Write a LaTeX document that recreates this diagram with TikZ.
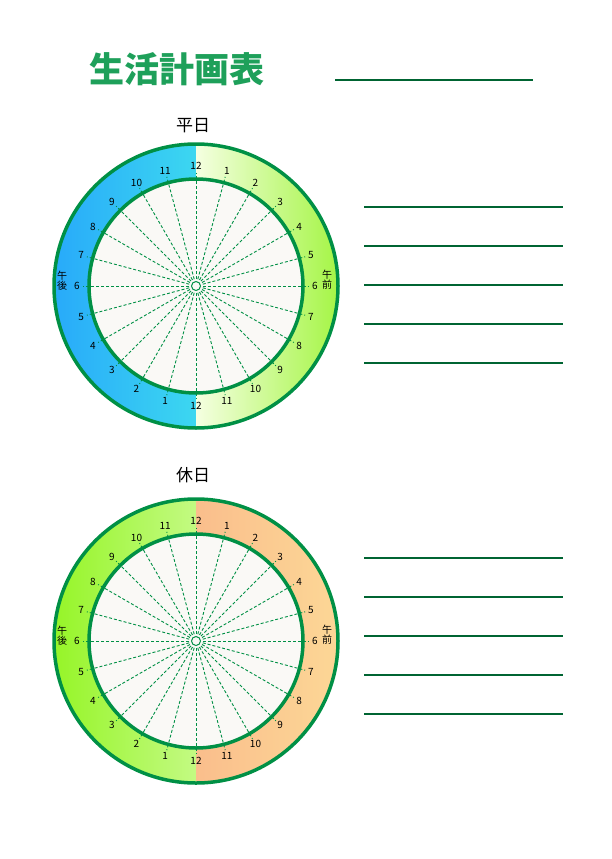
\documentclass[tikz,border=0pt]{standalone}
\usepackage{fontspec}
\setmainfont{Noto Sans CJK JP}
\usepackage{tikz}

\definecolor{ringgreen}{RGB}{0,144,69}
\definecolor{rulegreen}{RGB}{0,100,50}
\definecolor{titlegreen}{RGB}{30,160,90}
\definecolor{dialface}{RGB}{250,249,246}
\definecolor{pmblueL}{RGB}{40,170,250}
\definecolor{pmblueR}{RGB}{60,215,240}
\definecolor{amlimeL}{RGB}{245,255,225}
\definecolor{amlimeR}{RGB}{165,245,70}
\definecolor{pmgreenL}{RGB}{150,245,40}
\definecolor{pmgreenR}{RGB}{195,250,130}
\definecolor{ampeachL}{RGB}{250,190,140}
\definecolor{ampeachR}{RGB}{252,215,150}

\tikzset{
  hour/.style={font=\fontsize{10}{10}\selectfont, inner sep=0pt},
  halfday/.style={font=\fontsize{10}{10}\selectfont, align=center, inner sep=0pt},
  daytitle/.style={font=\fontsize{17}{17}\selectfont, inner sep=0pt},
  ringline/.style={draw=ringgreen, line width=3.5pt},
  spoke/.style={ringgreen, line width=0.9pt, dash pattern=on 3pt off 2pt},
  writeline/.style={rulegreen, line width=1.6pt},
}

\begin{document}
\begin{tikzpicture}[x=1pt, y=-1pt]
\useasboundingbox (0,0) rectangle (612,859);

\node[font=\fontsize{35}{35}\selectfont\bfseries, text=titlegreen, inner sep=0pt] (title) at (177,69) {生活計画表};
\draw[writeline] (335,80) -- (533,80);

% the two clock faces
\foreach \cy/\ty/\ttl/\fc/\pmL/\pmR/\amL/\amR in {286/126/平日/wd/pmblueL/pmblueR/amlimeL/amlimeR, 641/475/休日/hd/pmgreenL/pmgreenR/ampeachL/ampeachR}{
  \coordinate (\fc) at (196,\cy);
  \node[daytitle] (\fc-title) at (193,\ty) {\ttl};
  \begin{scope}
    \clip (\fc) circle (142);
    \shade[left color=\pmL, right color=\pmR] (54,\cy-142) rectangle (196,\cy+142);
    \shade[left color=\amL, right color=\amR] (196,\cy-142) rectangle (338,\cy+142);
  \end{scope}
  \fill[dialface] (\fc) circle (107);
  \foreach \a in {0,15,...,345}
    \draw[spoke] ([shift={(\a:7)}]\fc) -- ([shift={(\a:113)}]\fc);
  \draw[ringline] (\fc) circle (107);
  \draw[ringline] (\fc) circle (142);
  \draw[ringgreen, line width=1pt] (\fc) circle (4.5);
  \foreach \k in {1,...,11}{
    \node[hour] (\fc-am\k) at ([shift={({15*\k-90}:119)}]\fc) {\k};
    \node[hour] (\fc-pm\k) at ([shift={({15*\k+90}:119)}]\fc) {\k};
  }
  \node[hour] (\fc-noon) at ([shift={(-90:120)}]\fc) {12};
  \node[hour] (\fc-night) at ([shift={(90:120)}]\fc) {12};
  \node[halfday] (\fc-am) at ([shift={(131,-6)}]\fc) {午\\前};
  \node[halfday] (\fc-pm) at ([shift={(-134,-5)}]\fc) {午\\後};
}

% lines for notes
\foreach \ly in {207,246,285,324,363,558,597,636,675,714}
  \draw[writeline] (364,\ly) -- (563,\ly);
\end{tikzpicture}
\end{document}
